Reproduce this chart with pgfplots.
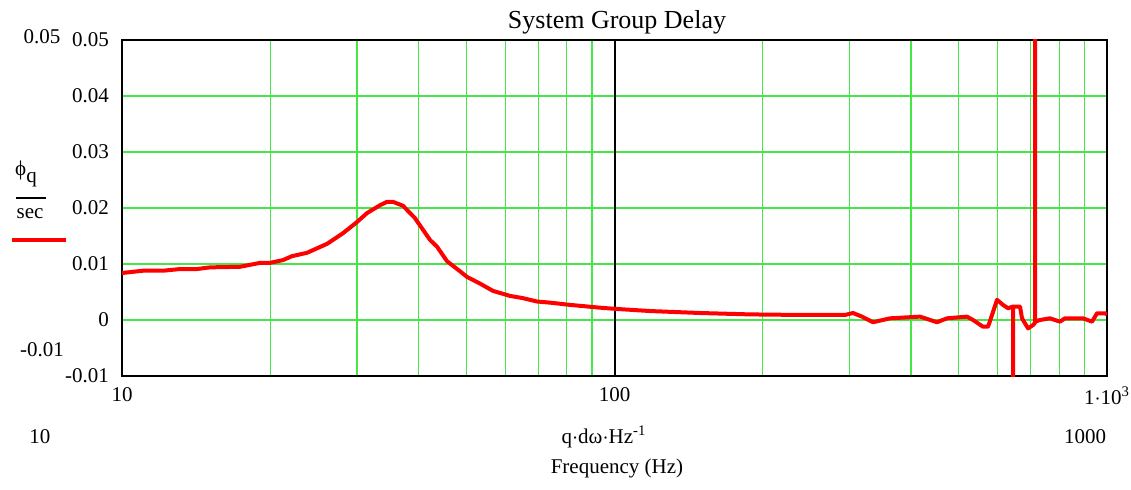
\documentclass[border=0pt]{standalone}
\usepackage{fontspec}
\setmainfont{Liberation Serif}
\usepackage{pgfplots}
\pgfplotsset{compat=1.18}
\definecolor{gridgreen}{RGB}{70,230,70}
\pgfplotstableread{
f v
10 0.0084
10.14 0.00845
11.03 0.0088
12.11 0.0088
13.12 0.0091
14.20 0.0091
15.09 0.0094
17.36 0.0095
19.06 0.0102
19.97 0.0102
21.23 0.0107
22.14 0.0114
23.75 0.0120
26.08 0.0136
28.10 0.0155
30.01 0.0175
31.45 0.0191
33.42 0.0205
34.52 0.0211
35.50 0.0211
37.20 0.0204
39.34 0.0182
42.21 0.0143
43.61 0.0131
45.70 0.0105
48.56 0.0087
50.18 0.0077
53.33 0.0065
56.65 0.0052
61.36 0.0043
65.20 0.0039
69.61 0.0033
73.96 0.0031
81.21 0.0027
93.45 0.0022
100 0.0020
118.1 0.0016
149.2 0.00125
188.4 0.0010
238.1 0.0009
293.8 0.0009
305.0 0.00125
318.1 0.0006
334.9 -0.0004
362.7 0.0003
417.3 0.0006
451.6 -0.0004
473.3 0.0003
519.6 0.0006
534.5 0.0000
560.1 -0.0012
573.4 -0.0012
584.2 0.0009
597.9 0.0036
615.0 0.0027
629.6 0.0021
644.5 0.0024
644.5 -0.03
644.5 0.0024
665.9 0.0024
672.1 0.0003
691.3 -0.0015
707.6 -0.0009
714.3 -0.0005
714.3 0.1
714.3 -0.0003
731.1 0.0000
765.9 0.0003
802.6 -0.0003
821.5 0.0003
894.0 0.0003
932.3 -0.0003
954.3 0.0012
990.6 0.0012
1000 0.0010
}\datatable
\begin{document}
\begin{tikzpicture}
\useasboundingbox (-61pt,-56.5pt) rectangle (504.5pt,188pt);
\begin{axis}[
  scale only axis, width=492.5pt, height=168pt,
  at={(0pt,0pt)}, anchor=south west,
  xmode=log, xmin=10, xmax=1000, ymin=-0.01, ymax=0.05,
  scaled y ticks=false,
  xtick={10,100,1000},
  xticklabels={10,100,{1$\cdot$10\textsuperscript{3}}},
  minor xtick={20,30,40,50,60,70,80,90,200,300,400,500,600,700,800,900},
  ytick={-0.01,0,0.01,0.02,0.03,0.04,0.05},
  yticklabels={-0.01,0,0.01,0.02,0.03,0.04,0.05},
  major tick length=0pt, minor tick length=0pt,
  xmajorgrids=false, xminorgrids=true, ymajorgrids=true,
  major grid style={gridgreen, line width=0.6pt},
  minor grid style={gridgreen, line width=0.6pt},
  extra x ticks={100}, extra x tick labels={},
  extra x tick style={xmajorgrids=true, major grid style={black, line width=1pt}},
  axis line style={black, line width=1.4pt},
  tick label style={font=\fontsize{10.5}{12}\selectfont},
  xticklabel style={yshift=-2pt},
  yticklabel style={xshift=-3pt},
]
\addplot[red, line width=2pt, line join=round] table[x=f, y=v] {\datatable};
\end{axis}
\node[font=\fontsize{13}{15}\selectfont] at (247.5pt,177pt) {System Group Delay};
\node[font=\fontsize{10.5}{12}\selectfont] at (-40pt,169.5pt) {0.05};
\node[font=\fontsize{10.5}{12}\selectfont] at (-40pt,13pt) {-0.01};
\node[font=\fontsize{10.5}{12}\selectfont] at (-48pt,101pt) {ϕ\raisebox{-0.7ex}{q}};
\draw[black, line width=0.8pt] (-53pt,89pt) -- (-38pt,89pt);
\node[font=\fontsize{10.5}{12}\selectfont] at (-46pt,81pt) {sec};
\draw[red, line width=2pt] (-55pt,68pt) -- (-28pt,68pt);
\node[font=\fontsize{10.5}{12}\selectfont] at (-41pt,-30.5pt) {10};
\node[font=\fontsize{10.5}{12}\selectfont] at (481.5pt,-30.5pt) {1000};
\node[font=\fontsize{10.5}{12}\selectfont] at (241pt,-30.5pt) {q$\cdot$dω$\cdot$Hz\textsuperscript{-1}};
\node[font=\fontsize{10.5}{12}\selectfont] at (247.5pt,-46pt) {Frequency (Hz)};
\end{tikzpicture}
\end{document}
